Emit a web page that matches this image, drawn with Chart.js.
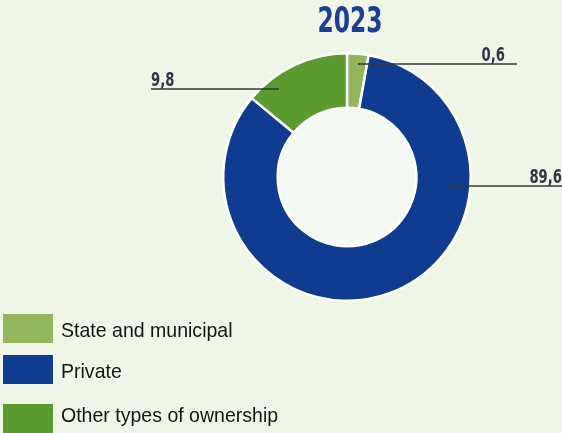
<!DOCTYPE html>
<html>
<head>
<meta charset="utf-8">
<script src="https://cdn.jsdelivr.net/npm/chart.js@4.4.1/dist/chart.umd.min.js"></script>
<style>
  html, body { margin: 0; padding: 0; background: #eff5e7; }
  #wrap { width: 562px; height: 433px; }
</style>
</head>
<body>
<div id="wrap"><canvas id="ownershipChart" width="562" height="433"></canvas></div>
<script>
// ownership structure, 2023 (%)
var chartTitle = '2023';
var categories = ['State and municipal', 'Private', 'Other types of ownership'];
// slice sizes as drawn in the picture
var sliceValues = [2.8, 83.2, 14.0];
// printed labels
var valueLabels = ['0,6', '89,6', '9,8'];
var sliceColors = ['#93b55c', '#0f3c90', '#5b9a2f'];

// leader lines, relative to donut centre: [startX, startY, endX, textAlign]
var leaderLayout = [
    [11, -113, 170, 'right'],
    [100, 9, 215, 'right'],
    [-68, -88, -196, 'left']
];

function condensedText(ctx, text, x, y, font, sx, align) {
    ctx.save();
    ctx.font = font;
    var w = ctx.measureText(text).width * sx;
    var left = x;
    if (align === 'center') left = x - w / 2;
    if (align === 'right') left = x - w;
    ctx.translate(left, y);
    ctx.scale(sx, 1);
    ctx.textAlign = 'left';
    ctx.textBaseline = 'alphabetic';
    ctx.fillText(text, 0, 0);
    ctx.restore();
}

const holePlugin = {
    id: 'hole',
    beforeDatasetsDraw(chart) {
        const arc = chart.getDatasetMeta(0).data[0];
        if (!arc) return;
        const ctx = chart.ctx;
        ctx.save();
        ctx.fillStyle = '#f5f9f3';
        ctx.beginPath();
        ctx.arc(arc.x, arc.y, arc.innerRadius, 0, Math.PI * 2);
        ctx.fill();
        ctx.restore();
    }
};

const labelsPlugin = {
    id: 'leaderLabels',
    afterDatasetsDraw(chart) {
        const ctx = chart.ctx;
        const arc = chart.getDatasetMeta(0).data[0];
        const cx = arc.x, cy = arc.y;

        // title
        ctx.fillStyle = '#1b3f94';
        condensedText(ctx, chartTitle, cx + 3, 32, 'bold 36px "DejaVu Sans"', 0.65, 'center');

        for (let i = 0; i < valueLabels.length; i++) {
            const l = leaderLayout[i];
            const y = cy + l[1];
            ctx.save();
            ctx.strokeStyle = '#34393a';
            ctx.lineWidth = 1.6;
            ctx.beginPath();
            ctx.moveTo(cx + l[0], y);
            ctx.lineTo(cx + l[2], y);
            ctx.stroke();
            ctx.restore();

            ctx.fillStyle = '#2e3747';
            let tx;
            if (l[3] === 'right') tx = Math.min(cx + l[2], chart.width) - (i === 0 ? 12 : 0);
            else tx = cx + l[2];
            condensedText(ctx, valueLabels[i], tx, y - 3, 'bold 20px "DejaVu Sans"', 0.66, l[3]);
        }
    }
};

const legendPlugin = {
    id: 'boxLegend',
    afterDraw(chart) {
        const ctx = chart.ctx;
        const tops = [314, 355, 404];
        for (let i = 0; i < categories.length; i++) {
            ctx.fillStyle = sliceColors[i];
            ctx.fillRect(3, tops[i], 50, 29);
            ctx.fillStyle = '#151515';
            condensedText(ctx, categories[i], 61, tops[i] + (i === 2 ? 18 : 23), '21px "Liberation Sans", Arial', 0.93, 'left');
        }
    }
};

new Chart(document.getElementById('ownershipChart'), {
    type: 'doughnut',
    data: {
        labels: categories,
        datasets: [{
            data: sliceValues,
            backgroundColor: sliceColors,
            borderColor: '#ffffff',
            borderWidth: 2.5
        }]
    },
    options: {
        responsive: false,
        animation: false,
        cutout: '56%',
        layout: {
            padding: { left: 222, right: 90, top: 52, bottom: 131 }
        },
        plugins: {
            legend: { display: false },
            tooltip: { enabled: false }
        }
    },
    plugins: [holePlugin, labelsPlugin, legendPlugin]
});
</script>
</body>
</html>
